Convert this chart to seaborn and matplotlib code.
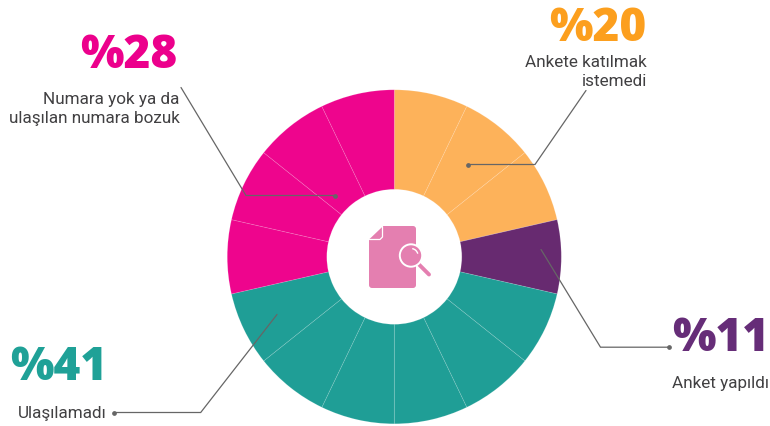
import matplotlib

matplotlib.use("Agg")
import matplotlib.pyplot as plt
from matplotlib.patches import Circle, FancyBboxPatch, Polygon, Arc
import seaborn as sns

# one entry per answer group, clockwise from 12 o'clock
groups = ["Ankete katılmak\nistemedi", "Anket yapıldı", "Ulaşılamadı", "Numara yok ya da\nulaşılan numara bozuk"]
percent_labels = ["%20", "%11", "%41", "%28"]
slice_counts = [3, 1, 6, 4]
slice_colors = ["#FDB25A", "#672A70", "#1F9E96", "#EE058D"]
title_colors = ["#FC9F1E", "#662D78", "#1FA197", "#EC008C"]

sns.set_theme(style="white")
plt.rcParams["font.family"] = ["Roboto", "DejaVu Sans"]

TEXT_COLOR = "#414042"
LINE_COLOR = "#666666"
ICON_COLOR = "#E47FB0"

sizes = []
colors = []
for count, color in zip(slice_counts, sns.color_palette(slice_colors)):
    sizes += [1] * count
    colors += [color] * count

fig = plt.figure(figsize=(7.7, 4.27), dpi=100)
ax = fig.add_axes([0, 0, 1, 1])

# y axis is flipped below, so ccw in data runs clockwise on screen
ax.pie(
    sizes,
    colors=colors,
    center=(394.3, 257.3),
    radius=167,
    startangle=-90,
    counterclock=True,
    wedgeprops={"width": 99.5, "edgecolor": (1, 1, 1, 0.15), "linewidth": 0.6},
)
ax.set_xlim(0, 770)
ax.set_ylim(426.5, -0.5)
ax.axis("off")

# leader lines
leaders = [
    [(468, 165), (535, 165), (586, 91)],
    [(541, 250), (600.5, 347.7), (669, 347.7)],
    [(277, 315), (200.7, 413), (114, 413)],
    [(335, 196), (246, 196), (181, 88)],
]
dots = [(468, 165), (669, 347.7), (114, 413), (335, 196)]
for points in leaders:
    xs, ys = zip(*points)
    ax.plot(xs, ys, color=LINE_COLOR, lw=0.9, solid_joinstyle="miter", zorder=3)
for x, y in dots:
    ax.plot(x, y, "o", color=LINE_COLOR, ms=2.4, zorder=3)

# big percentages
title_pos = [(646, 40.5, "right"), (769, 350.5, "right"), (107, 379.5, "right"), (177, 67.5, "right")]
for label, color, (x, y, ha) in zip(percent_labels, title_colors, title_pos):
    ax.text(
        x, y, label, color=color, fontsize=33, fontweight=800, family=["Open Sans", "DejaVu Sans"],
        ha=ha, va="baseline",
    )

# captions
caption_pos = [(647, 86, "right"), (769, 388, "right"), (107, 418, "right"), (179.5, 123, "right")]
for label, (x, y, ha) in zip(groups, caption_pos):
    ax.text(
        x, y, label, color=TEXT_COLOR, fontsize=12.3, ha=ha, va="baseline", linespacing=1.4
    )

# document icon in the hole
doc = FancyBboxPatch(
    (371, 228.5), 43, 58, boxstyle="round,pad=2,rounding_size=3", fc=ICON_COLOR, ec="none", zorder=4
)
ax.add_patch(doc)
ax.add_patch(Polygon([(367, 225), (383, 225), (383, 226.7), (369, 240), (367, 240)], fc="white", ec="none", zorder=5))
ax.add_patch(Polygon([(370, 240), (382.5, 240), (382.5, 228)], fc=ICON_COLOR, ec="none", zorder=5))
ax.plot([369.5, 380, 382.5, 382.5], [240, 240, 237.5, 227], color="white", lw=0.9, zorder=6)
ax.plot([419, 429], [265, 275], color=ICON_COLOR, lw=2.8, solid_capstyle="round", zorder=5)
ax.add_patch(Circle((411, 256), 11.2, fc=ICON_COLOR, ec="white", lw=1.4, zorder=6))
ax.add_patch(Arc((411, 256), 14, 14, theta1=-80, theta2=-15, color="white", lw=1.0, zorder=7))

fig.savefig("out.png", dpi=100)
